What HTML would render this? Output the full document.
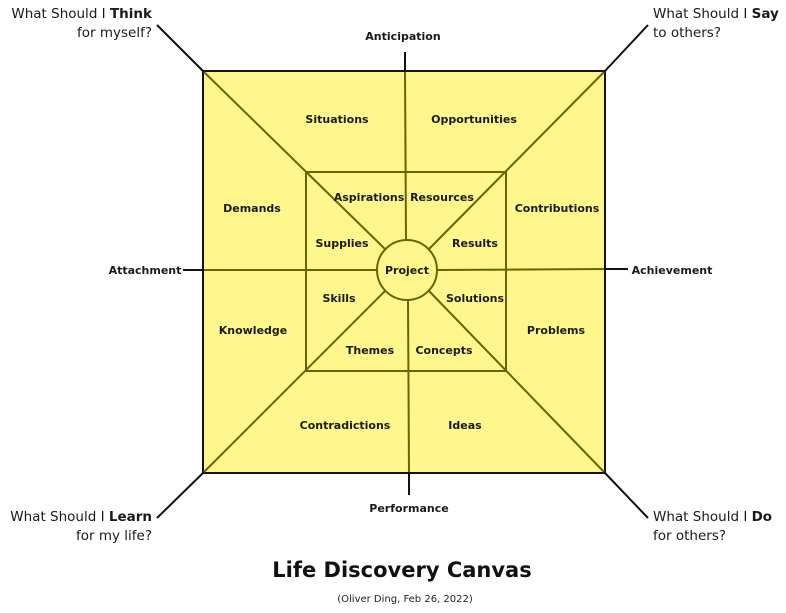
<!DOCTYPE html>
<html><head><style>
html,body{margin:0;padding:0;background:#fff;}
svg{display:block;}
text{font-family:"DejaVu Sans","Liberation Sans",sans-serif;}
.b{font-size:11px;font-weight:bold;fill:#1a1a1a;text-anchor:middle;}
.q{font-size:13.5px;fill:#1a1a1a;font-family:"DejaVu Sans",sans-serif;}
</style></head><body>
<svg width="786" height="613" viewBox="0 0 786 613">
<rect x="203" y="71" width="402" height="402" fill="#fff68c" stroke="#111" stroke-width="2"/>
<g stroke="#111" stroke-width="2">
<line x1="157" y1="25" x2="203" y2="71"/>
<line x1="648" y1="25" x2="605" y2="71"/>
<line x1="157" y1="518" x2="203" y2="473"/>
<line x1="648" y1="518" x2="605" y2="473"/>
<line x1="405" y1="52" x2="405" y2="71"/>
<line x1="409" y1="473" x2="409" y2="495"/>
<line x1="183" y1="270" x2="203" y2="270"/>
<line x1="605" y1="269" x2="628" y2="269"/>
</g>
<g stroke="#6b6400" stroke-width="2" fill="none">
<rect x="306" y="172" width="200" height="199"/>
<line x1="204" y1="72" x2="385" y2="249"/>
<line x1="604" y1="72" x2="429" y2="249"/>
<line x1="204" y1="472" x2="385" y2="291"/>
<line x1="604" y1="472" x2="429" y2="291"/>
<line x1="405" y1="72" x2="406" y2="240"/>
<line x1="408" y1="300" x2="409" y2="472"/>
<line x1="204" y1="270" x2="377" y2="270"/>
<line x1="437" y1="270" x2="604" y2="269"/>
</g>
<circle cx="407" cy="270" r="30" fill="#fff68c" stroke="#6b6400" stroke-width="2"/>
<g class="b">
<text x="403" y="40">Anticipation</text>
<text x="409" y="512">Performance</text>
<text x="145" y="274">Attachment</text>
<text x="672" y="274">Achievement</text>
<text x="337" y="123">Situations</text>
<text x="474" y="123">Opportunities</text>
<text x="252" y="212">Demands</text>
<text x="557" y="212">Contributions</text>
<text x="253" y="334">Knowledge</text>
<text x="556" y="334">Problems</text>
<text x="345" y="429">Contradictions</text>
<text x="465" y="429">Ideas</text>
<text x="369" y="201">Aspirations</text>
<text x="442" y="201">Resources</text>
<text x="342" y="247">Supplies</text>
<text x="475" y="247">Results</text>
<text x="339" y="302">Skills</text>
<text x="475" y="302">Solutions</text>
<text x="370" y="354">Themes</text>
<text x="444" y="354">Concepts</text>
<text x="407" y="274">Project</text>
</g>
<text class="q" x="152" y="18" text-anchor="end">What Should I <tspan font-weight="bold">Think</tspan></text>
<text class="q" x="152" y="37" text-anchor="end">for myself?</text>
<text class="q" x="653" y="18">What Should I <tspan font-weight="bold">Say</tspan></text>
<text class="q" x="653" y="37">to others?</text>
<text class="q" x="152" y="521" text-anchor="end">What Should I <tspan font-weight="bold">Learn</tspan></text>
<text class="q" x="152" y="540" text-anchor="end">for my life?</text>
<text class="q" x="653" y="521">What Should I <tspan font-weight="bold">Do</tspan></text>
<text class="q" x="653" y="540">for others?</text>
<text x="402" y="577" text-anchor="middle" style="font-size:21px;font-weight:bold;fill:#111">Life Discovery Canvas</text>
<text x="405" y="602" text-anchor="middle" style="font-size:10px;fill:#222">(Oliver Ding, Feb 26, 2022)</text>
</svg>
</body></html>
